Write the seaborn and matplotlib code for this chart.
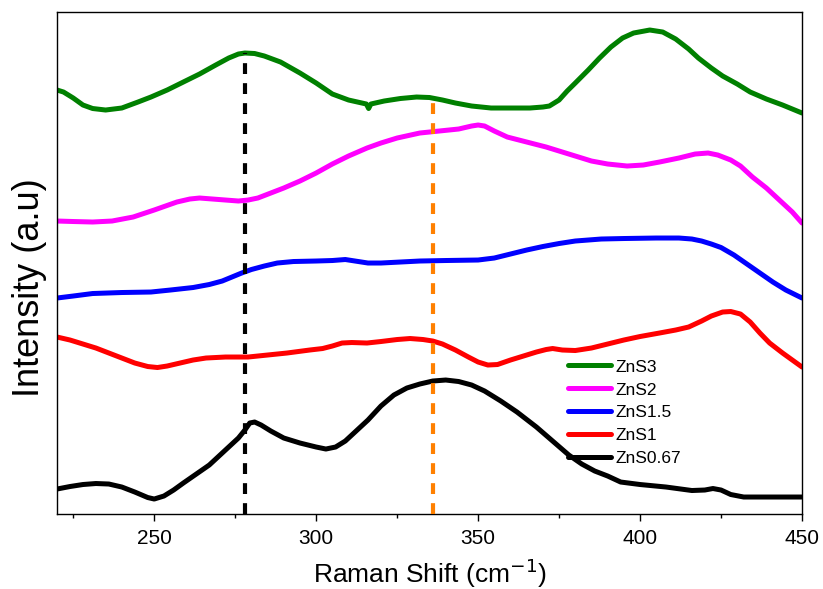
import numpy as np
import pandas as pd
import matplotlib
matplotlib.use("Agg")
import matplotlib.pyplot as plt
from matplotlib.ticker import MultipleLocator
import seaborn as sns

# Raman spectra (offset for display), arbitrary intensity units
znS3_x = [220, 222, 225, 228, 231, 235, 240, 245, 249, 254, 259, 264, 269, 273,
          276, 278, 281, 284, 289, 295, 300, 305, 310, 315.5, 316.2, 316.9, 321,
          326, 331, 335, 339, 343, 348, 354, 360, 366, 370, 372, 375, 377.5, 380,
          384, 387.5, 391, 394.6, 398, 403, 407, 411, 415, 418, 422, 425.5, 430,
          434, 439, 444, 450]
znS3_y = [424, 422, 416, 409, 405.5, 404, 406, 412, 417, 424, 432, 440, 449, 456,
          460, 461, 460.5, 458, 452, 441, 431, 420, 414, 410, 405.5, 410, 413,
          415.5, 417, 416.5, 414, 411, 408, 406, 406, 406, 407, 408, 414, 423, 431,
          444, 456, 467, 476, 481, 484, 482, 475, 465, 456, 446, 438, 430,
          422, 415, 409, 401]

znS2_x = [220, 225, 231, 237, 243.5, 250, 257, 261, 264, 268, 272, 276, 279, 282,
          286, 290, 295, 300, 305, 310, 315.7, 320, 325, 332, 338, 344, 348, 350,
          352, 355, 359, 365, 371, 378, 385, 390, 396, 401, 406, 412, 417, 421,
          424, 428, 431, 434.7, 439, 443, 447, 450]
znS2_y = [293, 292.5, 292, 293, 297, 304, 312, 315, 316, 315, 314, 313, 314, 316,
          321, 326, 333, 341, 350, 358, 366, 371, 376, 381, 383, 385, 388, 389,
          388, 383, 377, 372, 367, 360, 353, 350, 348, 349, 352, 356, 360, 361,
          359, 354, 348, 337, 326, 314, 302, 291]

znS15_x = [220, 225, 231, 240, 249, 255, 262, 267, 271, 274, 277, 280, 284, 288,
           293, 300, 305, 309, 312, 316, 320, 326, 332, 340, 350, 355, 360, 365,
           370, 375, 380, 388, 395, 405, 412, 416, 419, 422, 425, 429, 433, 437,
           441, 445, 450]
znS15_y = [216, 218, 220.5, 221.5, 222, 224, 226.5, 229.5, 233, 237, 241, 244.5,
           248, 251, 252.5, 253, 253.5, 254.5, 253, 251, 251, 252, 253, 253.5,
           254, 256, 260, 264, 267.5, 270.5, 273, 275, 275.5, 276, 276, 275, 273,
           270, 266.5, 259, 250, 241, 232, 224, 216]

znS1_x = [220, 224, 228, 232, 236, 240, 244, 248, 251, 254, 258, 262, 266, 272,
          279, 285, 291, 298, 302, 305, 308, 311, 315.7, 320, 325, 329, 333, 336,
          339, 343, 347, 350, 353, 356, 360, 364, 368, 371, 373, 376, 380, 385,
          390, 395, 400, 406, 411, 415, 419, 422, 425.5, 428, 431, 434, 437, 440,
          444, 447, 450]
znS1_y = [177, 174, 170, 166, 161, 156, 151, 147.5, 146.5, 148, 151, 154, 156, 157,
          157, 159, 161, 164, 165.5, 168, 171, 171.5, 171, 172.5, 174.5, 175.5,
          174.5, 173, 170, 164, 157, 152, 149, 149.5, 154, 158, 162, 164.5, 165.5,
          164, 163.5, 166, 170, 174, 177.5, 181, 184, 187, 193, 198, 202, 202.5,
          200, 192, 181, 171, 161, 154, 147]

znS067_x = [220, 224, 228, 232, 236, 240, 244, 248, 250, 253, 256, 259, 263, 267,
            270, 273, 276, 278, 279.5, 281, 283, 286, 290, 295, 300, 303, 306, 309,
            312, 316, 320, 324, 328, 332, 336, 340, 344, 348, 352, 357, 362, 368,
            373, 378, 382, 386, 390, 394, 400, 408, 416, 420, 422.5, 425, 428, 432,
            440, 450]
znS067_y = [25, 27.5, 29.5, 30.5, 30, 27, 22, 16.5, 15, 18, 24, 31, 40, 49, 58, 67,
            76, 84, 91, 92, 89, 83, 76, 71, 67, 65, 67, 73, 82, 94, 108, 119, 126,
            130, 133, 134, 132.5, 129, 123, 113, 102, 87, 73, 59, 50, 43, 38, 32,
            29.5, 27, 23.5, 24, 25.5, 24, 19.5, 17, 17, 17]

labels = ["ZnS3", "ZnS2", "ZnS1.5", "ZnS1", "ZnS0.67"]
series_x = [znS3_x, znS2_x, znS15_x, znS1_x, znS067_x]
series_y = [znS3_y, znS2_y, znS15_y, znS1_y, znS067_y]
colors = ["#008000", "#ff00ff", "#0000ff", "#ff0000", "#000000"]

# Marked peak positions (cm^-1)
peak_positions = [278, 336]
peak_colors = ["#000000", "#ff8000"]

frames = []
for lab, xs, ys in zip(labels, series_x, series_y):
    frames.append(pd.DataFrame({"shift": xs, "intensity": ys, "sample": lab}))
df = pd.concat(frames, ignore_index=True)

sns.set_style("white")
plt.rcParams["font.family"] = ["Liberation Sans", "DejaVu Sans"]
plt.rcParams["text.color"] = "black"
plt.rcParams["axes.labelcolor"] = "black"
plt.rcParams["xtick.color"] = "black"
plt.rcParams["xtick.labelcolor"] = "black"

fig, ax = plt.subplots(figsize=(8.23, 5.89), dpi=100)
fig.subplots_adjust(left=0.0693, right=0.9745, bottom=0.1273, top=0.9796)

sns.lineplot(data=df, x="shift", y="intensity", hue="sample", hue_order=labels,
             palette=colors, linewidth=3.6, ax=ax, estimator=None, sort=True)
for line in ax.lines:
    line.set_solid_joinstyle("round")
    line.set_solid_capstyle("round")

# dashed markers from the axis up to the ZnS3 curve
for pos, col in zip(peak_positions, peak_colors):
    top = np.interp(pos, znS3_x, znS3_y)
    ax.plot([pos, pos], [0, top], color=col, linewidth=3.0,
            dashes=(2.6, 2.2), zorder=5)

ax.set_xlim(220, 450)
ax.set_ylim(0, 502)
ax.xaxis.set_major_locator(MultipleLocator(50))
ax.xaxis.set_minor_locator(MultipleLocator(25))
ax.tick_params(axis="x", which="major", direction="out", length=5, width=1,
               labelsize=15, bottom=True, pad=6, colors="black")
ax.tick_params(axis="x", which="minor", direction="out", length=3, width=1,
               bottom=True, colors="black")
ax.set_yticks([])

for sp in ax.spines.values():
    sp.set_visible(True)
    sp.set_color("black")
    sp.set_linewidth(1.0)

ax.set_xlabel("Raman Shift (cm$^{-1}$)", fontsize=19, labelpad=6, color="black")
ax.set_ylabel("Intensity (a.u)", fontsize=26, color="black")
ax.yaxis.set_label_coords(-0.013, 0.45)

handles, labs = ax.get_legend_handles_labels()
leg = ax.legend(handles, labs, loc="upper left", bbox_to_anchor=(0.686, 0.308),
                frameon=False, fontsize=12.5, handlelength=2.5,
                handletextpad=0.25, labelspacing=0.45, borderpad=0,
                borderaxespad=0, labelcolor="black")
for line in leg.get_lines():
    line.set_linewidth(3.6)

fig.savefig("out.png", dpi=100)
